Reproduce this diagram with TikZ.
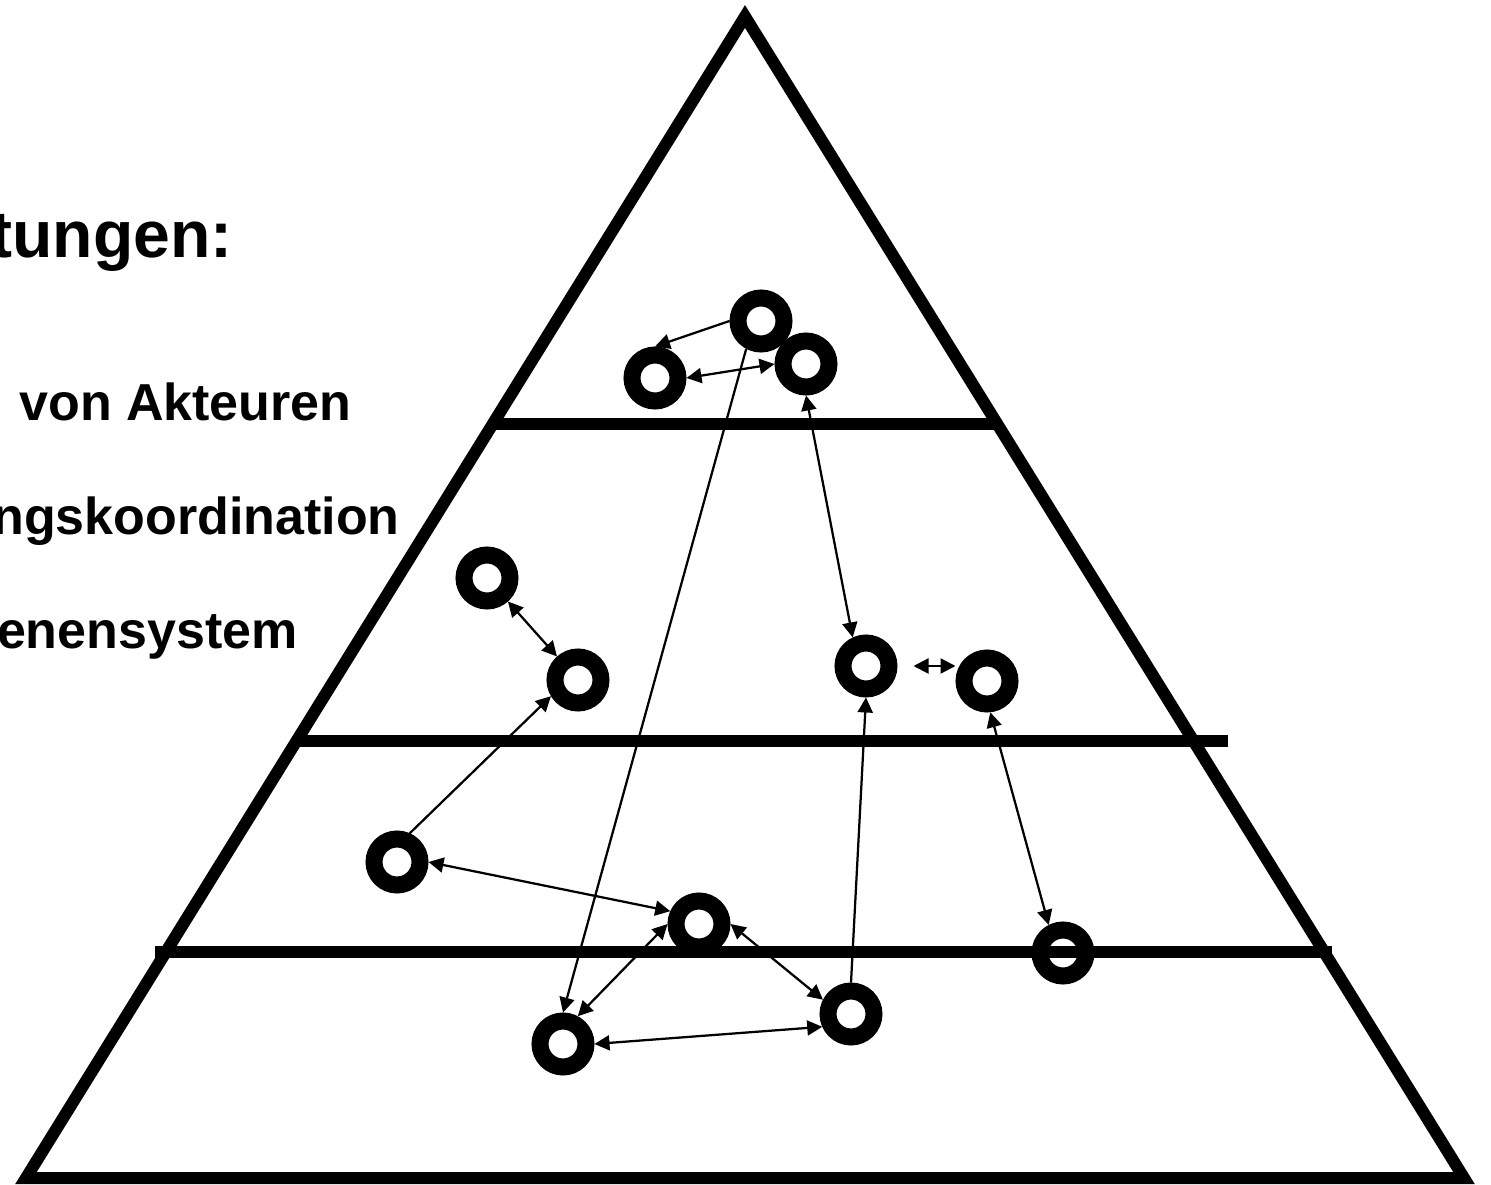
\documentclass[tikz,border=0pt]{standalone}
\usepackage{fontspec}
\setmainfont{Liberation Sans}
\usetikzlibrary{arrows.meta,calc}
\tikzset{
  ring/.style={circle, draw, line width=0.34cm, inner sep=0pt, minimum size=0.92cm, outer sep=0.17cm},
  frame/.style={line width=0.24cm},
  tip/.tip={Triangle[length=0.3cm,width=0.3cm]},
  sgl/.style={line width=0.045cm, -tip},
  dbl/.style={line width=0.045cm, tip-tip},
  bigtxt/.style={inner sep=0pt, anchor=base east, font=\bfseries\fontsize{37.6pt}{44pt}\selectfont},
  smalltxt/.style={inner sep=0pt, anchor=base east, font=\bfseries\fontsize{29.6pt}{35pt}\selectfont}
}
\begin{document}
\begin{tikzpicture}[x=0.02cm, y=-0.02cm]
\useasboundingbox (0,0) rectangle (1491,1185);
\clip (0,0) rectangle (1491,1185);
% pyramid
\coordinate (top) at (745,16.5);
\coordinate (bl) at (26,1178);
\coordinate (br) at (1464,1178);
\draw[frame, line join=miter] (top) -- (bl) -- (br) -- cycle;
\coordinate (l1a) at (493,424);
\coordinate (l1b) at (997,424);
\coordinate (l2a) at (297,741);
\coordinate (l2b) at (1228,741);
\coordinate (l3a) at (155,952);
\coordinate (l3b) at (1332,952);
\draw[frame] (l1a) -- (l1b);
\draw[frame] (l2a) -- (l2b);
\draw[frame] (l3a) -- (l3b);
% texts (cut off at the left edge, as in the original)
\node[bigtxt] (t0) at (233,258) {tungen:};
\node[smalltxt] (t1) at (352,421) {von Akteuren};
\node[smalltxt] (t2) at (400,535) {ngskoordination};
\node[smalltxt] (t3) at (298,648) {enensystem};
% actors
\node[ring] (A) at (761,321) {};
\node[ring] (B) at (655,378) {};
\node[ring] (C) at (806,364) {};
\node[ring] (D) at (487,578) {};
\node[ring] (E) at (578,680) {};
\node[ring] (F) at (866,666) {};
\node[ring] (G) at (987,681) {};
\node[ring] (H) at (397,862) {};
\node[ring] (I) at (699,924) {};
\node[ring] (J) at (1063,953) {};
\node[ring] (K) at (851,1014) {};
\node[ring] (L) at (563,1044) {};
% relations
\draw[sgl] (A.west) -- (B.north);
\draw[dbl] (B.east) -- (C.west);
\draw[sgl] (A.242) -- (L.north);
\draw[dbl] (C.south) -- (F.115);
\draw[dbl] (D) -- (E);
\draw[sgl] (H.66) -- (E.211);
\draw[dbl] ($(F.east)+(16,0)$) -- (F.east -| G.west);
\draw[sgl] (K.north) -- (F.south);
\draw[dbl] (G.276) -- (J.117);
\draw[dbl] (H.east) -- (I.156);
\draw[dbl] (I.west) -- (L.62);
\draw[dbl] (I.east) -- (K.153);
\draw[dbl] (L.east) -- (K.204);
\end{tikzpicture}
\end{document}
